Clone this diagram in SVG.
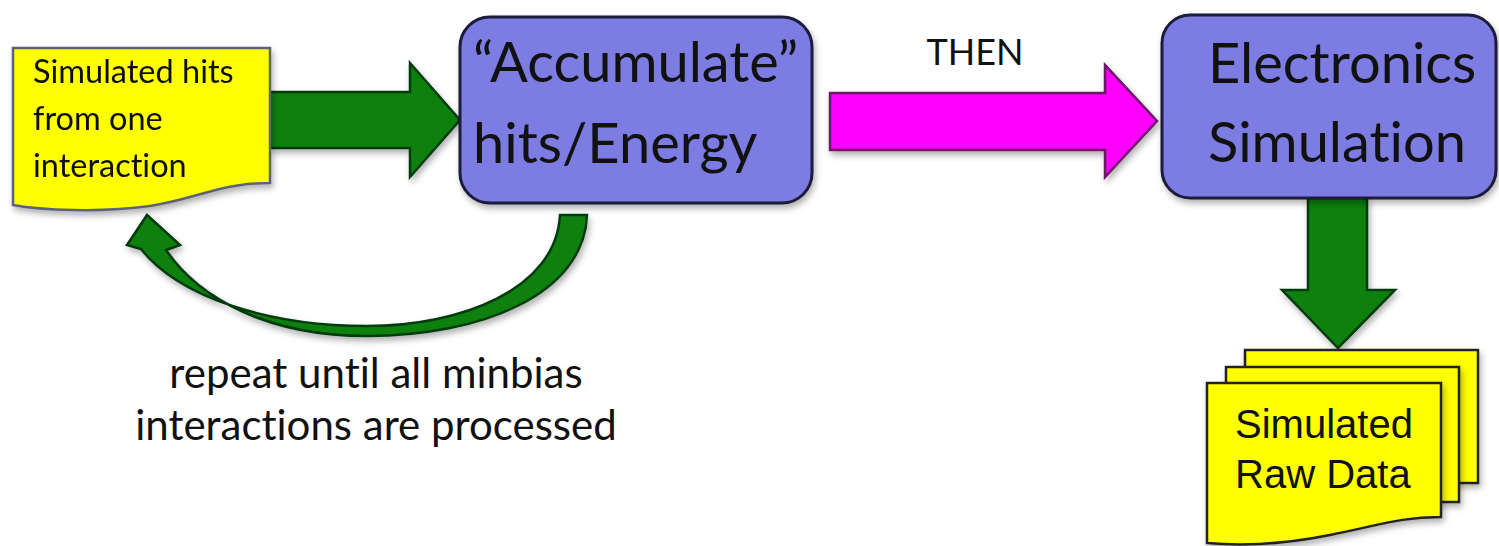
<svg xmlns="http://www.w3.org/2000/svg" width="1499" height="546" viewBox="0 0 1499 546">
  <defs>
    <filter id="shadow" x="-10%" y="-10%" width="130%" height="140%">
      <feDropShadow dx="2" dy="4" stdDeviation="3" flood-color="#000" flood-opacity="0.3"/>
    </filter>
  </defs>
  <style>
    .doc { fill: #ffff00; stroke: #5d6278; stroke-width: 2.5; }
    .docb { fill: #ffff00; stroke: #222; stroke-width: 2.5; }
    .proc { fill: #7b7be3; stroke: #1c1c3c; stroke-width: 3; }
    .green { fill: #0a800a; stroke: #033a10; stroke-width: 2.5; }
    .magenta { fill: #ff00ff; stroke: #6e1868; stroke-width: 2.5; }
    .lbl { font-family: Lato, "Open Sans", sans-serif; fill: #111; font-variant-ligatures: none; }
    .arial { font-family: "Liberation Sans", Arial, sans-serif; fill: #111; }
  </style>

  <!-- connectors -->
  <g id="connectors">
    <!-- hits -> accumulate -->
    <path class="green" filter="url(#shadow)" d="M270,92 H410 V63 L460,120 L410,177 V148 H270 Z"/>
    <!-- accumulate -> electronics -->
    <path class="magenta" filter="url(#shadow)" d="M830,93 H1105 V65 L1157,121 L1105,177 V150 H830 Z"/>
    <!-- electronics -> raw data -->
    <path class="green" filter="url(#shadow)" d="M1308,198 H1367 V290 H1395 L1338,348 L1282,290 H1308 Z"/>
    <!-- loop back to the input -->
    <path class="green" filter="url(#shadow)" d="M587,215 C584,295 480,336 367,336 C270,336 200,300 166,250 L180,245 L147,215 L127,245 L141,249 C180,298 270,326 367,326 C460,326 556,290 560,215 Z"/>
  </g>

  <!-- input hits document -->
  <g id="hits" filter="url(#shadow)">
    <path class="doc" d="M13,48 H270 V183 C220,183 200,198 150,206 C100,213 40,210 13,205 Z"/>
    <text class="lbl" font-size="32.5" x="33" y="83">Simulated hits</text>
    <text class="lbl" font-size="32.5" x="33" y="130">from one</text>
    <text class="lbl" font-size="32.5" x="33" y="177">interaction</text>
  </g>

  <!-- accumulate step -->
  <g id="accumulate">
    <rect class="proc" filter="url(#shadow)" x="460" y="17" width="352" height="186" rx="30"/>
    <text class="lbl" font-size="56" x="473" y="82">“Accumulate”</text>
    <text class="lbl" font-size="56" x="473" y="163">hits/Energy</text>
  </g>

  <!-- THEN label -->
  <g id="then">
    <text class="lbl" font-size="36" x="975" y="65" text-anchor="middle">THEN</text>
  </g>

  <!-- electronics simulation step -->
  <g id="electronics">
    <rect class="proc" filter="url(#shadow)" x="1162" y="15" width="334" height="183" rx="28"/>
    <text class="lbl" font-size="56" x="1208" y="83">Electronics</text>
    <text class="lbl" font-size="56" x="1208" y="162">Simulation</text>
  </g>

  <!-- raw data output (stacked documents) -->
  <g id="rawdata">
    <rect class="docb" filter="url(#shadow)" x="1245" y="350" width="233" height="133"/>
    <rect class="docb" filter="url(#shadow)" x="1226" y="367" width="233" height="135"/>
    <path class="docb" filter="url(#shadow)" d="M1207,383 H1441 V517 C1400,517 1380,525 1330,535 C1280,545 1240,546 1207,543 Z"/>
    <text class="arial" font-size="40" x="1235" y="438">Simulated</text>
    <text class="arial" font-size="40" x="1235" y="488">Raw Data</text>
  </g>

  <!-- loop caption -->
  <g id="caption">
    <text class="lbl" font-size="42" x="376" y="388" text-anchor="middle">repeat until all minbias</text>
    <text class="lbl" font-size="42" x="376" y="440" text-anchor="middle">interactions are processed</text>
  </g>
</svg>
